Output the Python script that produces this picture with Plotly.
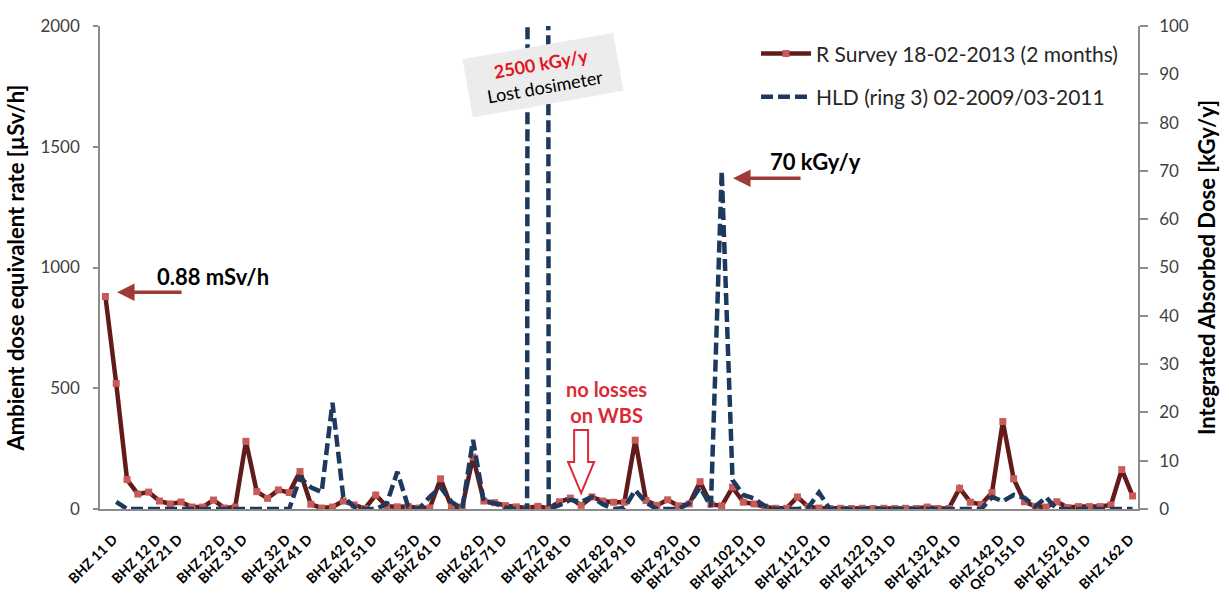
import plotly.graph_objects as go

# Survey positions along the ring (6 positions per period, 16 periods)
positions = list(range(96))

tick_index = [0, 4, 6, 10, 12, 16, 18, 22, 24, 28, 30, 34, 36, 40, 42, 46,
              48, 52, 54, 58, 60, 64, 66, 70, 72, 76, 78, 82, 84, 88, 90, 94]
tick_labels = ["BHZ 11 D", "BHZ 12 D", "BHZ 21 D", "BHZ 22 D", "BHZ 31 D", "BHZ 32 D",
               "BHZ 41 D", "BHZ 42 D", "BHZ 51 D", "BHZ 52 D", "BHZ 61 D", "BHZ 62 D",
               "BHZ 71 D", "BHZ 72 D", "BHZ 81 D", "BHZ 82 D", "BHZ 91 D", "BHZ 92 D",
               "BHZ 101 D", "BHZ 102 D", "BHZ 111 D", "BHZ 112 D", "BHZ 121 D", "BHZ 122 D",
               "BHZ 131 D", "BHZ 132 D", "BHZ 141 D", "BHZ 142 D", "QFO 151 D", "BHZ 152 D",
               "BHZ 161 D", "BHZ 162 D"]

# Ambient dose equivalent rate, uSv/h (R Survey 18-02-2013)
r_survey = [880, 520, 122, 62, 70, 33, 21, 29, 8, 8, 37, 4,
            8, 280, 72, 44, 79, 68, 155, 20, 4, 8, 33, 17,
            2, 58, 11, 9, 10, 4, 4, 125, 8, 8, 215, 33,
            26, 14, 9, 4, 11, 2, 30, 45, 15, 50, 33, 28,
            28, 285, 35, 15, 38, 13, 21, 113, 20, 13, 90, 28,
            21, 8, 3, 3, 50, 9, 4, 2, 3, 2, 3, 2,
            3, 2, 3, 2, 8, 2, 2, 86, 28, 19, 68, 362,
            125, 30, 11, 8, 30, 6, 10, 10, 10, 17, 163, 54]

# Integrated absorbed dose, kGy/y (HLD ring 3, 02-2009/03-2011)
hld = [None, 1.5, 0, 0, 0, 0, 0, 0, 0, 0, 0, 0,
       0, 0, 0, 0, 0, 0, 6.5, 4.5, 3.5, 22, 2.5, 0.5,
       0, 0, 1, 7.7, 0.5, 0, 2.5, 4.5, 1.5, 0, 14.3, 1.5,
       1.2, 0.3, 0, 0, 2500, 0, 0.8, 1.9, 1.5, 2.5, 1, 0,
       0.2, 3.9, 1.3, 0, 0, 0, 1.2, 4.5, 0.5, 70, 6, 2.9,
       2.2, 0.6, 0, 0, 0, 0.3, 3.4, 0, 0, 0, 0, 0,
       0, 0, 0, 0, 0, 0, 0, 0, 0, 0, 2.5, 1.6,
       2.9, 2.3, 0.5, 2.4, 0, 0, 0, 0, 0, 0, 0, 0]

FONT = "Lato"
AXIS_GREY = "#8c8c8c"
ARROW_RED = "#9e3b37"

fig = go.Figure()

fig.add_trace(go.Scatter(
    x=positions, y=r_survey, name="R Survey 18-02-2013 (2 months)",
    mode="lines+markers", legendgroup="survey",
    line=dict(color="#621b1b", width=4.5),
    marker=dict(symbol="square", size=7, color="#c85a58"),
    yaxis="y",
))

fig.add_trace(go.Scatter(
    x=positions, y=hld, name="HLD (ring 3) 02-2009/03-2011",
    mode="lines", legendgroup="hld",
    line=dict(color="#1d3a5e", width=4.5, dash="12px,5px"),
    connectgaps=False,
    yaxis="y2",
))

annotations = [
    # peak values called out with arrows
    dict(x=9.95, y=961, xref="x", yref="y", text="<b>0.88 mSv/h</b>", showarrow=False,
         font=dict(family=FONT, size=22, color="black"), xanchor="center", yanchor="middle"),
    dict(x=1.08, y=898, xref="x", yref="y", text="", showarrow=True, ax=66, ay=0,
         arrowcolor=ARROW_RED, arrowwidth=3.5, arrowhead=2, arrowsize=1),
    dict(x=65.64, y=1437, xref="x", yref="y", text="<b>70 kGy/y</b>", showarrow=False,
         font=dict(family=FONT, size=22, color="black"), xanchor="center", yanchor="middle"),
    dict(x=58.05, y=1370, xref="x", yref="y", text="", showarrow=True, ax=69, ay=0,
         arrowcolor=ARROW_RED, arrowwidth=3.5, arrowhead=2, arrowsize=1),
    # off-scale dosimeter note
    dict(x=40.48, y=1797, xref="x", yref="y",
         text="<b><span style='color:#e3141d'>2500 kGy/y</span></b><br>Lost dosimeter",
         showarrow=False, textangle=-10, bgcolor="#ececec", borderpad=4,
         width=144, height=50,
         font=dict(family=FONT, size=18, color="black")),
    # wire beam scanner note
    dict(x=46.3, y=443, xref="x", yref="y", text="<b>no losses<br>on WBS</b>", showarrow=False,
         font=dict(family=FONT, size=20, color="#dc2b36"), xanchor="center", yanchor="middle"),
]

shapes = [
    # hollow down arrow pointing at the WBS position
    dict(type="path", xref="x", yref="y",
         path="M 43.35 327 L 44.64 327 L 44.64 195 L 45.2 195 L 44.0 66 "
              "L 42.79 195 L 43.35 195 Z",
         line=dict(color="#dc2b36", width=2), fillcolor="white", layer="above"),
]

fig.update_layout(
    width=1229, height=597,
    margin=dict(l=100, r=91, t=26, b=88),
    paper_bgcolor="white", plot_bgcolor="white",
    font=dict(family=FONT, color="#404040"),
    showlegend=True,
    legend=dict(x=0.632, y=0.985, xanchor="left", yanchor="top",
                font=dict(family=FONT, size=21, color="#262626"),
                bgcolor="rgba(0,0,0,0)", tracegroupgap=13, itemwidth=50),
    annotations=annotations,
    shapes=shapes,
    xaxis=dict(
        range=[-0.5, 95.5], tickmode="array", tickvals=tick_index, ticktext=tick_labels,
        tickangle=-45, ticks="", showline=True, linecolor=AXIS_GREY, linewidth=1.5,
        showgrid=False, zeroline=False, automargin=False,
        tickfont=dict(family=FONT, size=14, color="black", weight="bold"),
        ticklabelshift=8, ticklabelstandoff=15,
    ),
    yaxis=dict(
        range=[0, 2000], tickvals=[0, 500, 1000, 1500, 2000],
        ticks="outside", ticklen=5, tickcolor=AXIS_GREY, tickwidth=1.5,
        showline=True, linecolor=AXIS_GREY, linewidth=1.5,
        showgrid=False, zeroline=False, automargin=False,
        tickfont=dict(family=FONT, size=17, color="#404040"),
        ticklabelstandoff=10,
        title=dict(text="Ambient dose equivalent rate [µSv/h]", standoff=10,
                   font=dict(family=FONT, size=22, color="black", weight="bold")),
    ),
    yaxis2=dict(
        range=[0, 100], tickvals=list(range(0, 101, 10)), overlaying="y", side="right",
        ticks="outside", ticklen=8, tickcolor=AXIS_GREY, tickwidth=1.5,
        showline=True, linecolor=AXIS_GREY, linewidth=1.5,
        showgrid=False, zeroline=False, automargin=False,
        tickfont=dict(family=FONT, size=17, color="#404040"),
        ticklabelstandoff=8,
        title=dict(text="Integrated Absorbed Dose [kGy/y]", standoff=12,
                   font=dict(family=FONT, size=22, color="black", weight="bold")),
    ),
)

fig.write_html("out.html")
